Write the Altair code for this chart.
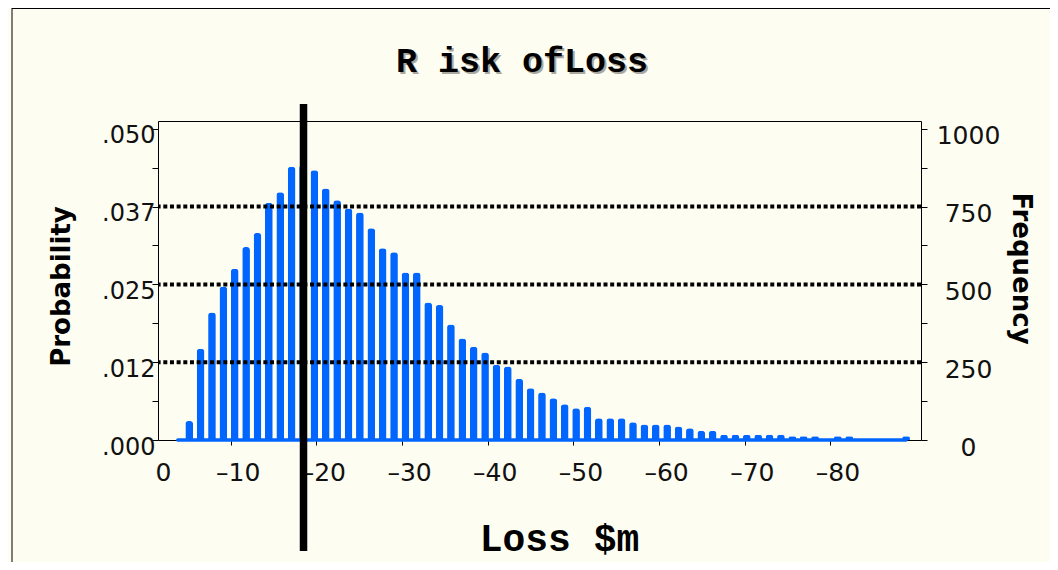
import altair as alt
import pandas as pd

# ---------------- data ----------------
TITLE = "R isk ofLoss"
X_TITLE = "Loss $m"
Y_LEFT_TITLE = "Probability"
Y_RIGHT_TITLE = "Frequency"

# frequency of each histogram bar (left to right)
FREQ = [0, 61, 293, 410, 493, 550, 620, 665, 762, 796, 878, 883, 867, 808, 770,
        744, 731, 680, 616, 603, 538, 538, 442, 434, 371, 326, 300, 281, 242, 236,
        197, 166, 153, 134, 115, 102, 107, 70, 70, 70, 57, 50, 50, 50, 43, 38, 30,
        30, 17, 17, 17, 17, 17, 17, 12, 12, 12, 0, 12, 12, 0, 0, 0, 0, 12]
BIN_START = -3.83      # loss ($m) at the centre of the first bar
BIN_STEP = -1.328      # loss step between neighbouring bars
MARKER_LOSS = -18.5    # thick vertical marker

X_TICKS = [0, -10, -20, -30, -40, -50, -60, -70, -80]
Y_TICKS = [0, 125, 250, 375, 500, 625, 750, 875, 1000]
GRID_LEVELS = [250, 500, 750]
PROB_LABELS = [".000", ".012", ".025", ".037", ".050"]

# ---------------- layout ----------------
W, H = 763, 319
PAD = {"left": 150, "top": 113, "right": 129, "bottom": 122}
BG = "#fefdf1"
BLUE = "#0066ff"
X_ZERO_PX = -18          # pixel position of loss 0 (just left of the plot area)

loss = [round(BIN_START + BIN_STEP * i, 3) for i in range(len(FREQ))]
bars_df = pd.DataFrame({"loss": loss, "freq": FREQ})
base_df = pd.DataFrame({"loss": [loss[0]], "loss2": [loss[-1]], "freq": [0]})
grid_df = pd.DataFrame({"freq": GRID_LEVELS})
marker_df = pd.DataFrame({"loss": [MARKER_LOSS]})
title_df = pd.DataFrame({"t": [TITLE]})
one_df = pd.DataFrame({"a": [0]})

X_SCALE = alt.Scale(domain=[-89.98, 0], range=[W, X_ZERO_PX], nice=False, zero=False)
Y_SCALE = alt.Scale(domain=[0, 1025], nice=False, zero=True)

x_axis = alt.Axis(
    values=X_TICKS,
    labelExpr="datum.value == 0 ? '0' : '\u2013' + abs(datum.value)",
    title=X_TITLE, titleFont="Liberation Mono", titleFontSize=38,
    titleFontWeight="bold", titleColor="black",
    titleX=401, titleY=110, titleAlign="center", titleBaseline="alphabetic",
    labelFont="DejaVu Sans", labelFontSize=25, labelColor="#111111",
    labelBaseline="top", labelPadding=15,
    labelOffset={"condition": {"test": "datum.value == 0", "value": 18}, "value": 7},
    tickOpacity={"condition": {"test": "datum.value == 0", "value": 0}, "value": 1},
    tickSize=5, tickColor="black", domain=False, grid=False, labelOverlap=False,
    labelFlush=False,
)

left_axis = alt.Axis(
    orient="left", values=Y_TICKS,
    labelExpr="datum.value % 250 ? '' : " + str(PROB_LABELS) + "[datum.value / 250]",
    title=Y_LEFT_TITLE, titleFont="DejaVu Sans", titleFontSize=26,
    titleFontWeight="bold", titleColor="black", titleAngle=270,
    titleX=-89, titleY=165, titleAlign="center", titleBaseline="alphabetic",
    labelFont="DejaVu Sans", labelFontSize=24, labelColor="#111111",
    labelAlign="right", labelBaseline="middle", labelPadding=-3, labelOffset=7,
    tickSize=6, tickColor="black", domain=False, grid=False, labelOverlap=False,
    labelFlush=False,
)

right_axis = alt.Axis(
    orient="right", values=Y_TICKS,
    labelExpr="datum.value % 250 ? '' : datum.value",
    title=Y_RIGHT_TITLE, titleFont="DejaVu Sans", titleFontSize=26,
    titleFontWeight="bold", titleColor="black", titleAngle=90,
    titleX=91, titleY=147, titleAlign="center", titleBaseline="alphabetic",
    labelFont="DejaVu Sans", labelFontSize=25, labelColor="#111111",
    labelAlign="center", labelBaseline="middle", labelPadding=41, labelOffset=7,
    tickSize=6, tickColor="black", domain=False, grid=False, labelOverlap=False,
    labelFlush=False,
)

bars = alt.Chart(bars_df).mark_bar(
    color=BLUE, size=7.7, cornerRadiusTopLeft=3, cornerRadiusTopRight=3
).encode(
    x=alt.X("loss:Q", scale=X_SCALE, axis=x_axis),
    y=alt.Y("freq:Q", scale=Y_SCALE, axis=left_axis),
)

baseline = alt.Chart(base_df).mark_rule(
    color=BLUE, strokeWidth=3.5, strokeCap="round"
).encode(
    x=alt.X("loss:Q", scale=X_SCALE, axis=None),
    x2="loss2:Q",
    y=alt.Y("freq:Q", scale=Y_SCALE, axis=None),
)

grid = alt.Chart(grid_df).mark_rule(
    color="black", strokeWidth=4, strokeDash=[4, 2.67]
).encode(
    y=alt.Y("freq:Q", scale=Y_SCALE, axis=right_axis),
)

marker = alt.Chart(marker_df).mark_rule(color="black", strokeWidth=7.5).encode(
    x=alt.X("loss:Q", scale=X_SCALE, axis=None),
    y=alt.value(-17),
    y2=alt.value(430),
)

frame_top = alt.Chart(one_df).mark_rule(color="black", strokeWidth=1).encode(
    x=alt.value(-PAD["left"] + 4), x2=alt.value(W + PAD["right"]),
    y=alt.value(-PAD["top"] + 0.5),
)
frame_left = alt.Chart(one_df).mark_rule(color="black", strokeWidth=1).encode(
    x=alt.value(-PAD["left"] + 4),
    y=alt.value(-PAD["top"]), y2=alt.value(H + PAD["bottom"]),
)

title_shadow = alt.Chart(title_df).mark_text(
    font="Liberation Mono", fontSize=35, fontWeight="bold", color="#a8a8a0",
    align="center", baseline="alphabetic"
).encode(x=alt.value(366), y=alt.value(-47), text="t:N")

title = alt.Chart(title_df).mark_text(
    font="Liberation Mono", fontSize=35, fontWeight="bold", color="black",
    align="center", baseline="alphabetic"
).encode(x=alt.value(364), y=alt.value(-49), text="t:N")

chart = alt.layer(
    frame_top, frame_left, bars, baseline, grid, marker, title_shadow, title
).resolve_axis(x="independent", y="independent").properties(
    width=W, height=H,
    autosize=alt.AutoSizeParams(type="none"),
    padding=PAD,
    background=BG,
).configure_view(stroke="black", strokeWidth=1)

chart.save("out.html", embed_options={"renderer": "svg", "actions": False})
